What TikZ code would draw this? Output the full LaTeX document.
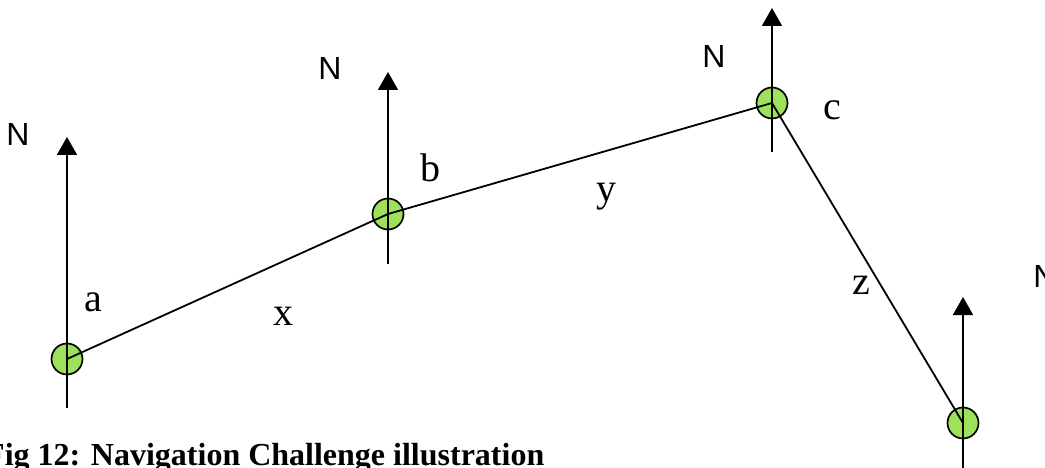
\documentclass[tikz,border=0pt]{standalone}
\usepackage{fontspec}
\setmainfont{Liberation Serif}
\newfontfamily\arialfont{Liberation Sans}
\usetikzlibrary{arrows.meta,positioning}
\definecolor{stationgreen}{RGB}{158,226,92}

\begin{document}
\begin{tikzpicture}[
    x=1pt, y=-1pt,
    station/.style={circle, draw, line width=1.7pt, fill=stationgreen, minimum size=31pt, inner sep=0pt},
    north/.style={-{Triangle[length=18pt,width=20pt]}, line width=1.8pt},
    leg/.style={line width=1.8pt},
    nlabel/.style={font=\arialfont\fontsize{32}{38}\selectfont, inner sep=0pt},
    plabel/.style={font=\fontsize{40}{48}\selectfont, inner sep=0pt, anchor=base}
]
    \useasboundingbox (0,0) rectangle (1045,468);
    \clip (0,0) rectangle (1045,468);

    % Stations
    \node[station] (a) at (67,359) {};
    \node[station] (b) at (388,214) {};
    \node[station] (c) at (772,103) {};
    \node[station] (d) at (963,423) {};

    % North arrow end points
    \coordinate (a-s) at (67,408);   \coordinate (a-n) at (67,137);
    \coordinate (b-s) at (388,264);  \coordinate (b-n) at (388,72);
    \coordinate (c-s) at (772,152);  \coordinate (c-n) at (772,8);
    \coordinate (d-s) at (963,480);  \coordinate (d-n) at (963,297);

    % Legs
    \draw[leg] (a.center) -- (b.center);
    \draw[leg] (b.center) -- (c.center);
    \draw[leg] (c.center) -- (d.center);

    % North arrows
    \draw[north] (a-s) -- (a-n);
    \draw[north] (b-s) -- (b-n);
    \draw[north] (c-s) -- (c-n);
    \draw[north] (d-s) -- (d-n);

    % N labels
    \node[nlabel] (na) at (18,134) {N};
    \node[nlabel] (nb) at (330,68) {N};
    \node[nlabel] (nc) at (714,56) {N};
    \node[nlabel] (nd) at (1045,276) {N};

    % Point and leg names
    \node[plabel] (la) at (93,311) {a};
    \node[plabel] (lb) at (430,182) {b};
    \node[plabel] (lc) at (832,120) {c};
    \node[plabel] (lx) at (283,325) {x};
    \node[plabel] (ly) at (606,202) {y};
    \node[plabel] (lz) at (861,294) {z};

    % Caption
    \node[font=\bfseries\fontsize{32}{38}\selectfont, inner sep=0pt, anchor=base west] (caption) at (-15,465) {Fig 12: Navigation Challenge illustration};
\end{tikzpicture}
\end{document}
